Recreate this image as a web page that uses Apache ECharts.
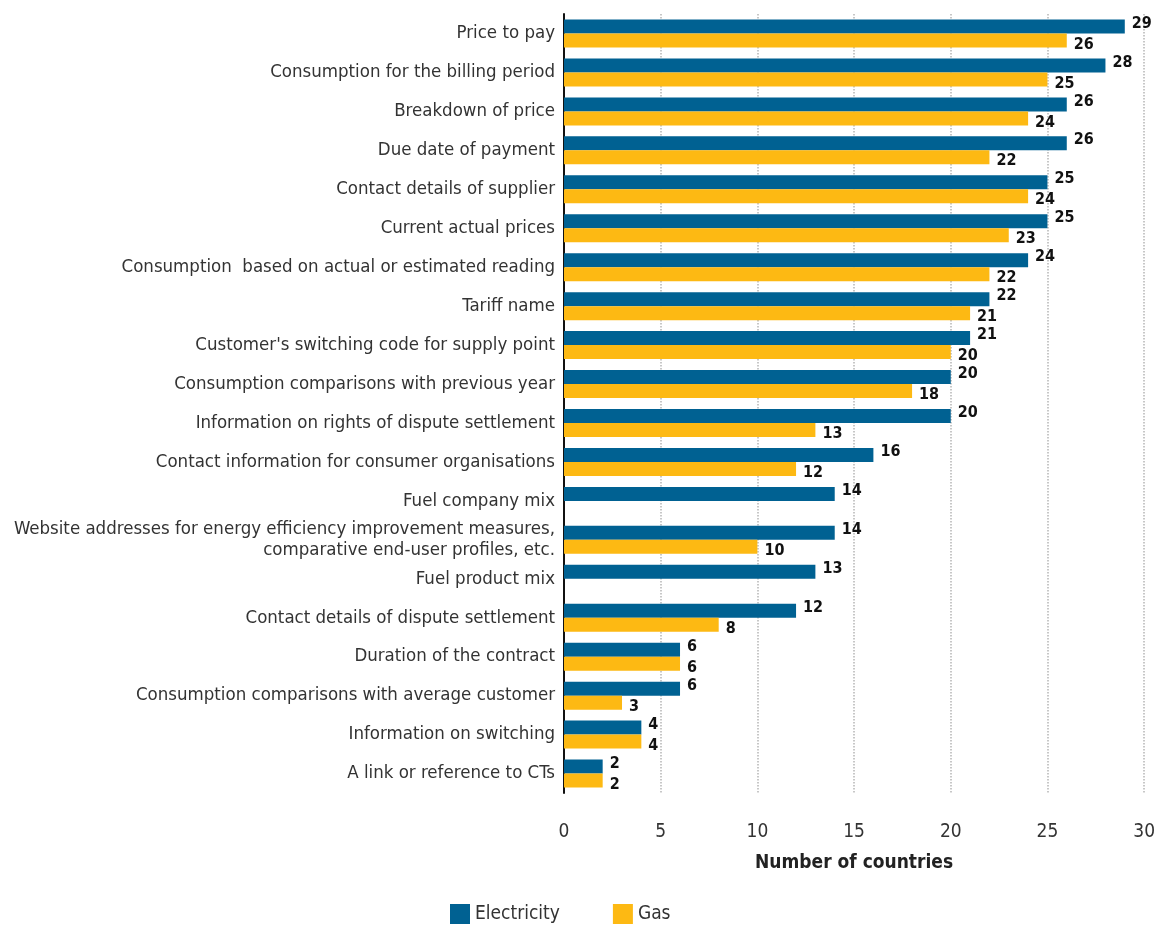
<!DOCTYPE html>
<html><head><meta charset="utf-8">
<script src="https://cdn.jsdelivr.net/npm/echarts@6/dist/echarts.min.js"></script>
<style>html,body{margin:0;padding:0;background:#fff}#c{width:1158px;height:925px}</style>
</head><body><div id="c"></div>
<script>
const categories = [
  "Price to pay",
  "Consumption for the billing period",
  "Breakdown of price",
  "Due date of payment",
  "Contact details of supplier",
  "Current actual prices",
  "Consumption  based on actual or estimated reading",
  "Tariff name",
  "Customer's switching code for supply point",
  "Consumption comparisons with previous year",
  "Information on rights of dispute settlement",
  "Contact information for consumer organisations",
  "Fuel company mix",
  "Website addresses for energy efficiency improvement measures,\ncomparative end-user profiles, etc.",
  "Fuel product mix",
  "Contact details of dispute settlement",
  "Duration of the contract",
  "Consumption comparisons with average customer",
  "Information on switching",
  "A link or reference to CTs"
];
const electricity = [29,28,26,26,25,25,24,22,21,20,20,16,14,14,13,12,6,6,4,2];
const gas = [26,25,24,22,24,23,22,21,20,18,13,12,null,10,null,8,6,3,4,2];
const xTicks = [0,5,10,15,20,25,30];

const FONT = '"Liberation Sans Narrow","Arial Narrow","DejaVu Sans Condensed",sans-serif';
const chart = echarts.init(document.getElementById('c'));
chart.setOption({
  animation: false,
  textStyle: {fontFamily: FONT},
  grid: {left: 564, right: 11, top: 14, bottom: 132, containLabel: false},
  legend: {
    top: 899, left: 445, itemWidth: 20, itemHeight: 20, itemGap: 53,
    icon: 'rect',
    textStyle: {fontFamily: FONT, fontSize: 19, color: '#333'},
    data: ['Electricity', 'Gas']
  },
  xAxis: {
    type: 'value', min: xTicks[0], max: xTicks[xTicks.length-1], interval: 5,
    axisLine: {show: false}, axisTick: {show: false},
    splitLine: {show: true, lineStyle: {type: 'dotted', color: '#b5b5b5', width: 1.5}},
    axisLabel: {fontFamily: FONT, fontSize: 19, color: '#333', margin: 30},
    name: 'Number of countries', nameLocation: 'middle', nameGap: 61,
    nameTextStyle: {fontFamily: FONT, fontSize: 19, fontWeight: 'bold', color: '#222'}
  },
  yAxis: {
    type: 'category', inverse: true, data: categories,
    axisLine: {show: true, lineStyle: {color: '#111', width: 2}},
    axisTick: {show: false},
    axisLabel: {fontFamily: FONT, fontSize: 18.5, color: '#333', margin: 9, lineHeight: 21}
  },
  series: [
    {
      name: 'Electricity', type: 'bar', data: electricity, barWidth: 14, barGap: '0%',
      itemStyle: {color: '#006192'},
      label: {show: true, position: 'right', offset: [2, -3], fontFamily: FONT, fontSize: 16, fontWeight: 'bold', color: '#111'}
    },
    {
      name: 'Gas', type: 'bar', data: gas, barWidth: 14,
      itemStyle: {color: '#fdb913'},
      label: {show: true, position: 'right', offset: [2, 4], fontFamily: FONT, fontSize: 16, fontWeight: 'bold', color: '#111'}
    }
  ]
});
</script></body></html>
